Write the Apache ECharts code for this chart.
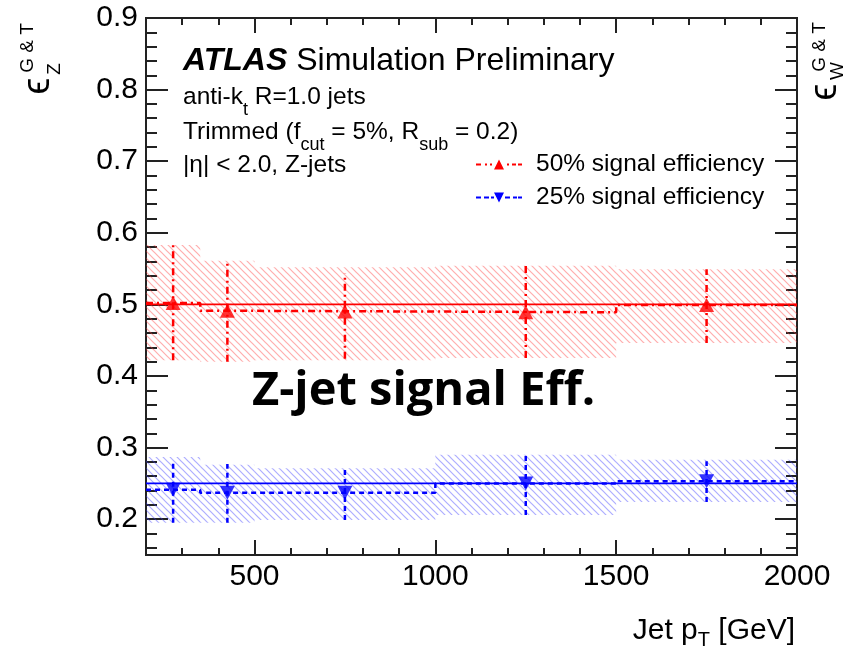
<!DOCTYPE html>
<html><head><meta charset="utf-8">
<script src="https://cdn.jsdelivr.net/npm/echarts@6/dist/echarts.min.js"></script>
<style>html,body{margin:0;padding:0;background:#fff}#c{width:852px;height:652px}</style>
</head><body><div id="c"></div>
<script>
// ---- data ----
const binEdges = [200, 350, 500, 1000, 1500, 2000];
const binCenters = [275, 425, 750, 1250, 1750];
// 50% signal efficiency working point
const z50 = [0.502, 0.491, 0.490, 0.489, 0.499];
const z50ErrLo = [0.422, 0.420, 0.424, 0.425, 0.446];
const z50ErrHi = [0.583, 0.561, 0.543, 0.554, 0.549];
const w50 = [0.500, 0.500, 0.500, 0.500, 0.500];
const w50BandLo = [0.422, 0.420, 0.422, 0.425, 0.446];
const w50BandHi = [0.583, 0.561, 0.552, 0.554, 0.549];
// 25% signal efficiency working point
const z25 = [0.241, 0.237, 0.237, 0.250, 0.253];
const z25ErrLo = [0.195, 0.195, 0.199, 0.206, 0.224];
const z25ErrHi = [0.283, 0.277, 0.271, 0.290, 0.281];
const w25 = [0.250, 0.250, 0.250, 0.250, 0.250];
const w25BandLo = [0.195, 0.195, 0.199, 0.206, 0.224];
const w25BandHi = [0.287, 0.276, 0.271, 0.290, 0.283];
// ticks
const xMajorTicks = [500, 1000, 1500, 2000];
const xMinorTicks = [300, 400, 600, 700, 800, 900, 1100, 1200, 1300, 1400, 1600, 1700, 1800, 1900];
const yMajorTicks = [0.2, 0.3, 0.4, 0.5, 0.6, 0.7, 0.8, 0.9];
const yMinorTicks = [0.16, 0.18, 0.22, 0.24, 0.26, 0.28, 0.32, 0.34, 0.36, 0.38, 0.42, 0.44, 0.46, 0.48,
  0.52, 0.54, 0.56, 0.58, 0.62, 0.64, 0.66, 0.68, 0.72, 0.74, 0.76, 0.78, 0.82, 0.84, 0.86, 0.88];
const name50 = '50% signal efficiency';
const name25 = '25% signal efficiency';

// ---- helpers ----
function hatch(color) {
  const c = document.createElement('canvas'); c.width = 7; c.height = 7;
  const g = c.getContext('2d'); g.strokeStyle = color; g.lineWidth = 1.2;
  g.beginPath(); g.moveTo(-1, -1); g.lineTo(8, 8); g.moveTo(-1, 6); g.lineTo(1, 8); g.moveTo(6, -1); g.lineTo(8, 1); g.stroke();
  return { image: c, repeat: 'repeat' };
}
const redHatch = hatch('rgba(255,60,60,0.42)');
const blueHatch = hatch('rgba(60,60,255,0.42)');
function stepData(vals) {
  const d = vals.map((v, i) => [binEdges[i], v]);
  d.push([binEdges[binEdges.length - 1], vals[vals.length - 1]]);
  return d;
}
function bandData(lo, hi) { return lo.map((l, i) => [binEdges[i], binEdges[i + 1], l, hi[i]]); }
function errData(lo, hi) { return lo.map((l, i) => [binCenters[i], l, hi[i]]); }
function ptData(v) { return v.map((y, i) => [binCenters[i], y]); }

const FONT = 'Liberation Sans';
const axisCol = '#222';
function xAx(pos, ticks, len, labels) {
  return {
    type: 'value', position: pos, min: 200, max: 2000,
    axisLine: { show: true, onZero: false, lineStyle: { color: axisCol, width: 2 } },
    axisTick: { show: true, inside: true, length: len, customValues: ticks, lineStyle: { color: axisCol, width: 2 } },
    axisLabel: labels ? { show: true, customValues: labels, fontSize: 30, color: '#000', fontFamily: FONT, margin: 7,
      formatter: v => String(v) } : { show: false },
    splitLine: { show: false }
  };
}
function yAx(pos, ticks, len, labels) {
  return {
    type: 'value', position: pos, min: 0.15, max: 0.9,
    axisLine: { show: true, onZero: false, lineStyle: { color: axisCol, width: 2 } },
    axisTick: { show: true, inside: true, length: len, customValues: ticks, lineStyle: { color: axisCol, width: 2 } },
    axisLabel: labels ? { show: true, customValues: labels, fontSize: 30, color: '#000', fontFamily: FONT, margin: 8,
      formatter: v => Number(v).toFixed(1) } : { show: false },
    splitLine: { show: false }
  };
}
function bandSeries(lo, hi, fill) {
  return {
    type: 'custom', data: bandData(lo, hi), z: 1, silent: true,
    renderItem: (p, api) => {
      const a = api.coord([api.value(0), api.value(3)]);
      const b = api.coord([api.value(1), api.value(2)]);
      return { type: 'rect', shape: { x: a[0], y: a[1], width: b[0] - a[0], height: b[1] - a[1] }, style: { fill: fill } };
    }
  };
}
function errSeries(lo, hi, color, dash) {
  return {
    type: 'custom', data: errData(lo, hi), z: 4, silent: true,
    renderItem: (p, api) => {
      const a = api.coord([api.value(0), api.value(1)]);
      const b = api.coord([api.value(0), api.value(2)]);
      return { type: 'line', shape: { x1: a[0], y1: a[1], x2: b[0], y2: b[1] }, style: { stroke: color, lineWidth: 2.5, lineDash: dash } };
    }
  };
}
// legend icons: dashed line sample with a marker (box 46 x 10)
const iconRed = 'path://M0,4h5v2h-5Z M9,4h2v2h-2Z M14,4h2v2h-2Z M18,10L23,0L28,10Z M31,4h2v2h-2Z M36,4h4v2h-4Z M42,4h4v2h-4Z';
const iconBlue = 'path://M0,4h5v2h-5Z M8,4h5v2h-5Z M15,4h3v2h-3Z M18,0L28,0L23,10Z M29,4h5v2h-5Z M37,4h4v2h-4Z M42,4h4v2h-4Z';

const chart = echarts.init(document.getElementById('c'), null, { renderer: 'canvas' });
chart.setOption({
  animation: false,
  backgroundColor: '#fff',
  grid: { left: 146, right: 55, top: 18, bottom: 97, containLabel: false },
  xAxis: [xAx('bottom', xMajorTicks, 15, xMajorTicks), xAx('bottom', xMinorTicks, 7), xAx('top', xMajorTicks, 15), xAx('top', xMinorTicks, 7)],
  yAxis: [yAx('left', yMajorTicks, 22, yMajorTicks), yAx('left', yMinorTicks, 11), yAx('right', yMajorTicks, 22), yAx('right', yMinorTicks, 11)],
  legend: {
    orient: 'vertical', left: 471, top: 147, itemWidth: 46, itemHeight: 10, itemGap: 8,
    textStyle: { fontSize: 24.5, color: '#000', fontFamily: FONT, padding: [0, 0, 0, 9] },
    data: [{ name: name50, icon: iconRed }, { name: name25, icon: iconBlue }]
  },
  series: [
    bandSeries(w50BandLo, w50BandHi, redHatch),
    bandSeries(w25BandLo, w25BandHi, blueHatch),
    { type: 'line', data: stepData(w50), step: 'end', symbol: 'none', z: 2, silent: true, lineStyle: { color: '#ff0000', width: 1.8 } },
    { type: 'line', data: stepData(w25), step: 'end', symbol: 'none', z: 2, silent: true, lineStyle: { color: '#0000ff', width: 1.8 } },
    { name: name50, type: 'line', data: stepData(z50), step: 'end', symbol: 'none', z: 3, color: '#ff0000',
      lineStyle: { color: '#ff0000', width: 2.5, type: [7, 4, 2, 4] } },
    { name: name25, type: 'line', data: stepData(z25), step: 'end', symbol: 'none', z: 3, color: '#0000ff',
      lineStyle: { color: '#0000ff', width: 2.5, type: [5, 4] } },
    errSeries(z50ErrLo, z50ErrHi, '#ff0000', [7, 4, 2, 4]),
    errSeries(z25ErrLo, z25ErrHi, '#0000ff', [5, 4]),
    { type: 'scatter', data: ptData(z50), symbol: 'triangle', symbolSize: [15, 14], z: 5, itemStyle: { color: '#ff0000' } },
    { type: 'scatter', data: ptData(z25), symbol: 'triangle', symbolRotate: 180, symbolSize: [15, 14], z: 5, itemStyle: { color: '#0000ff' } }
  ],
  graphic: [
    { type: 'text', x: 183, y: 61, style: { text: '{a|ATLAS}{b| Simulation Preliminary}', verticalAlign: 'middle', align: 'left',
      rich: { a: { fontSize: 32, fontWeight: 'bold', fontStyle: 'italic', fontFamily: FONT, fill: '#000' },
              b: { fontSize: 32, fontFamily: FONT, fill: '#000' } } } },
    { type: 'text', x: 183, y: 97, style: { text: '{n|anti-k}{s|t}{n| R=1.0 jets}', verticalAlign: 'middle', align: 'left',
      rich: { n: { fontSize: 24.5, lineHeight: 44, fontFamily: FONT, fill: '#000' }, s: { fontSize: 18, lineHeight: 18, verticalAlign: 'bottom', fontFamily: FONT, fill: '#000' } } } },
    { type: 'text', x: 183, y: 132, style: { text: '{n|Trimmed (f}{s|cut}{n| = 5%, R}{s|sub}{n| = 0.2)}', verticalAlign: 'middle', align: 'left',
      rich: { n: { fontSize: 24.5, lineHeight: 44, fontFamily: FONT, fill: '#000' }, s: { fontSize: 18, lineHeight: 18, verticalAlign: 'bottom', fontFamily: FONT, fill: '#000' } } } },
    { type: 'text', x: 183, y: 165, style: { text: '|η| < 2.0, Z-jets', verticalAlign: 'middle', align: 'left', fontSize: 24.5, fontFamily: FONT, fill: '#000' } },
    { type: 'text', x: 252, y: 392, style: { text: 'Z-jet signal Eff.', verticalAlign: 'middle', align: 'left', fontSize: 47, fontWeight: 'bold', fontFamily: 'Open Sans', fill: '#000' } },
    { type: 'text', x: 795, y: 631, style: { text: '{n|Jet p}{s|T}{n| [GeV]}', verticalAlign: 'middle', align: 'right',
      rich: { n: { fontSize: 30, lineHeight: 39, fontFamily: FONT, fill: '#000' }, s: { fontSize: 20, lineHeight: 20, verticalAlign: 'bottom', fontFamily: FONT, fill: '#000' } } } },
    // left y title
    { type: 'text', x: 39, y: 86, rotation: Math.PI / 2, style: { text: 'ϵ', align: 'center', verticalAlign: 'middle', fontSize: 38, fontFamily: FONT, fill: '#000' } },
    { type: 'text', x: 55, y: 69, rotation: Math.PI / 2, style: { text: 'Z', align: 'center', verticalAlign: 'middle', fontSize: 19, fontFamily: FONT, fill: '#000' } },
    { type: 'text', x: 28, y: 48, rotation: Math.PI / 2, style: { text: 'G & T', align: 'center', verticalAlign: 'middle', fontSize: 19, fontFamily: FONT, fill: '#000' } },
    // right y title
    { type: 'text', x: 826, y: 92, rotation: Math.PI / 2, style: { text: 'ϵ', align: 'center', verticalAlign: 'middle', fontSize: 38, fontFamily: FONT, fill: '#000' } },
    { type: 'text', x: 838, y: 71, rotation: Math.PI / 2, style: { text: 'W', align: 'center', verticalAlign: 'middle', fontSize: 19, fontFamily: FONT, fill: '#000' } },
    { type: 'text', x: 820, y: 47, rotation: Math.PI / 2, style: { text: 'G & T', align: 'center', verticalAlign: 'middle', fontSize: 19, fontFamily: FONT, fill: '#000' } }
  ]
});
</script></body></html>
